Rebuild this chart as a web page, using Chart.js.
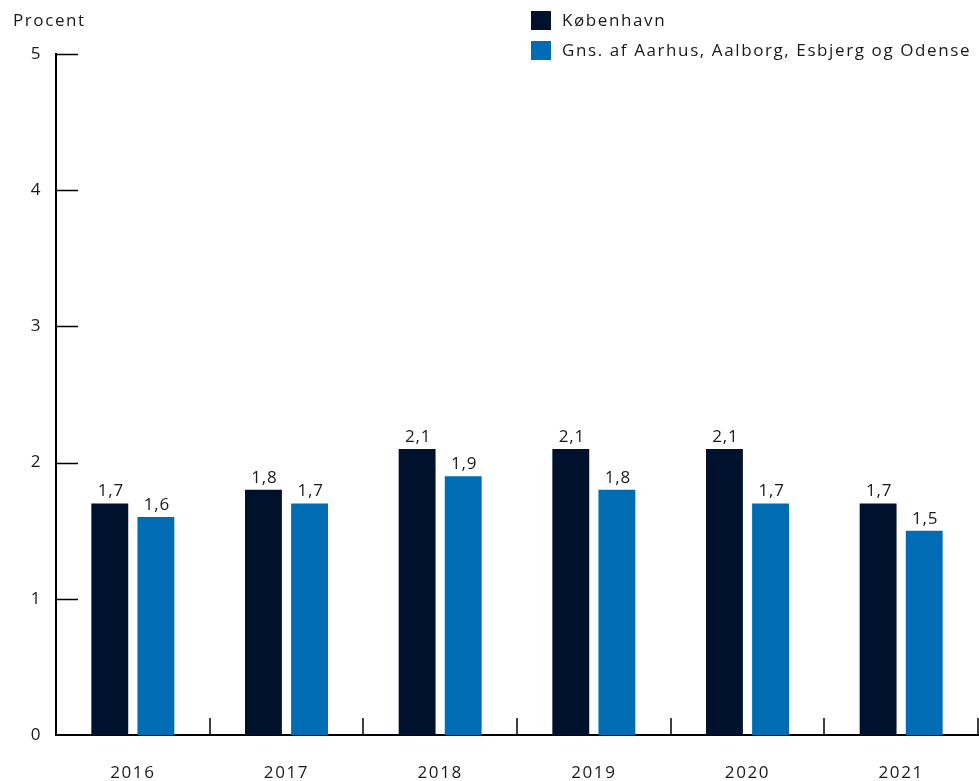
<!DOCTYPE html>
<html>
<head>
<meta charset="utf-8">
<script src="https://cdn.jsdelivr.net/npm/chart.js@4"></script>
<style>
  html, body { margin: 0; padding: 0; background: #fff; }
  #wrap { width: 979px; height: 781px; position: relative; }
</style>
</head>
<body>
<div id="wrap"><canvas id="myChart"></canvas></div>
<script>
const years = ['2016', '2017', '2018', '2019', '2020', '2021'];
const kbh = [1.7, 1.8, 2.1, 2.1, 2.1, 1.7];
const gns = [1.6, 1.7, 1.9, 1.8, 1.7, 1.5];
const seriesNames = ['København', 'Gns. af Aarhus, Aalborg, Esbjerg og Odense'];
const yTicks = [0, 1, 2, 3, 4, 5];

const FONT = '"Open Sans", sans-serif';
const TXT = '#1a1a1a';
const SPACING = '1.6px';

// wider letter spacing for all canvas text
const spacing = {
  id: 'spacing',
  beforeDraw(chart) {
    chart.ctx.letterSpacing = SPACING;
  }
};

// tick marks pointing into the plot, value labels, unit label and legend
const extras = {
  id: 'extras',
  afterDraw(chart) {
    const ctx = chart.ctx;
    const x = chart.scales.x, y = chart.scales.y;
    ctx.save();
    ctx.strokeStyle = '#000';
    ctx.lineWidth = 1.5;
    // y ticks
    yTicks.forEach(function (v) {
      if (v === 0) return;
      const py = Math.round(y.getPixelForValue(v)) + 0.5;
      ctx.beginPath();
      ctx.moveTo(x.left, py);
      ctx.lineTo(x.left + 22, py);
      ctx.stroke();
    });
    // x ticks at category borders
    for (let i = 0; i <= years.length; i++) {
      const px = Math.round(x.getPixelForValue(i - 0.5));
      ctx.beginPath();
      ctx.moveTo(px, y.bottom);
      ctx.lineTo(px, y.bottom - 17);
      ctx.stroke();
    }
    // value labels
    ctx.letterSpacing = '0.8px';
    ctx.fillStyle = TXT;
    ctx.font = '17px ' + FONT;
    ctx.textAlign = 'center';
    ctx.textBaseline = 'alphabetic';
    chart.data.datasets.forEach(function (ds, di) {
      chart.getDatasetMeta(di).data.forEach(function (bar, i) {
        ctx.fillText(String(ds.data[i]).replace('.', ','), bar.x + 1, bar.y - 7);
      });
    });
    // unit label
    ctx.letterSpacing = SPACING;
    ctx.textAlign = 'left';
    ctx.textBaseline = 'middle';
    ctx.fillText('Procent', 13, 21);
    // legend
    chart.data.datasets.forEach(function (ds, di) {
      const top = 11 + di * 30;
      ctx.fillStyle = ds.backgroundColor;
      ctx.fillRect(531, top, 20, 19);
      ctx.fillStyle = TXT;
      ctx.fillText(ds.label, 562, top + 10);
    });
    ctx.restore();
  }
};

const data = {
  labels: years,
  datasets: [{
    label: seriesNames[0],
    backgroundColor: '#00112e',
    data: kbh
  }, {
    label: seriesNames[1],
    backgroundColor: '#006cb4',
    data: gns
  }]
};

const config = {
  type: 'bar',
  data: data,
  options: {
    responsive: true,
    maintainAspectRatio: false,
    animation: false,
    datasets: {
      bar: { categoryPercentage: 0.6, barPercentage: 0.8 }
    },
    layout: { padding: { top: 54, right: 1, left: 0, bottom: 0 } },
    plugins: {
      legend: { display: false },
      tooltip: { enabled: false }
    },
    scales: {
      x: {
        grid: { display: false, drawTicks: false },
        border: { display: true, color: '#000', width: 2 },
        ticks: { color: TXT, font: { family: FONT, size: 17 }, padding: 28, maxRotation: 0 },
        afterFit: function (s) { s.height = 46; }
      },
      y: {
        min: 0,
        max: 5,
        grid: { display: false, drawTicks: false },
        border: { display: true, color: '#000', width: 2 },
        ticks: { color: TXT, font: { family: FONT, size: 17 }, padding: 14, stepSize: 1 },
        afterFit: function (s) { s.width = 56; }
      }
    }
  },
  plugins: [spacing, extras]
};

const myChart = new Chart(document.getElementById('myChart'), config);
</script>
</body>
</html>
